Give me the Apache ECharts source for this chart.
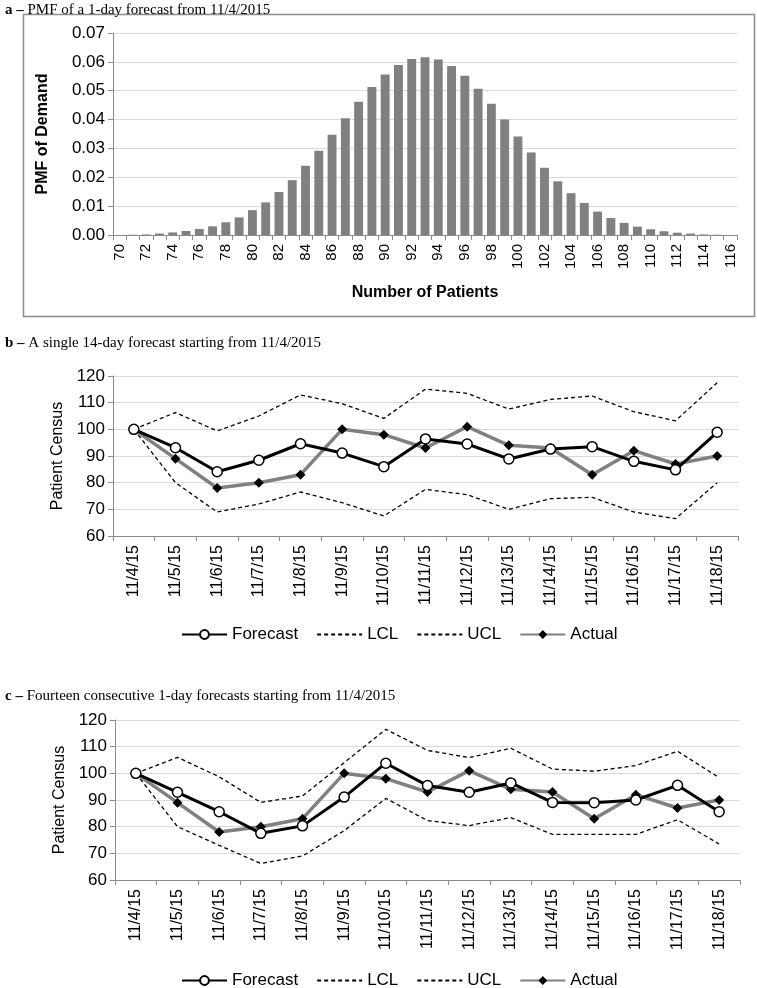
<!DOCTYPE html>
<html>
<head>
<meta charset="utf-8">
<script src="https://cdn.jsdelivr.net/npm/echarts@6/dist/echarts.min.js"></script>
<style>html,body{margin:0;padding:0;background:#fff}#c{width:757px;height:988px}</style>
</head>
<body>
<div id="c"></div>
<script>
// Panel a: PMF of demand
const pmfCategories = [];
for (let k = 70; k <= 116; k++) pmfCategories.push(String(k));
const pmfValues = [0.0000,0.0001,0.0002,0.0005,0.0009,0.0014,0.0021,0.0030,0.0044,0.0061,
  0.0086,0.0113,0.0149,0.0190,0.0240,0.0292,0.0347,0.0405,0.0462,0.0513,
  0.0556,0.0589,0.0610,0.0616,0.0608,0.0586,0.0552,0.0507,0.0455,0.0400,
  0.0341,0.0286,0.0233,0.0186,0.0145,0.0111,0.0081,0.0059,0.0042,0.0029,
  0.0020,0.0013,0.0008,0.0005,0.0002,0.0001,0.0000];

// Panels b and c
const dates = ['11/4/15','11/5/15','11/6/15','11/7/15','11/8/15','11/9/15','11/10/15','11/11/15',
  '11/12/15','11/13/15','11/14/15','11/15/15','11/16/15','11/17/15','11/18/15'];
const actual = [100,89,78,80,83,100,98,93,101,94,93,83,92,87,90];

const bForecast = [100,93.1,84.1,88.4,94.6,91.1,86.0,96.4,94.5,88.9,92.6,93.5,88.0,84.8,98.9];
const bLCL = [100,80,69,72,76.5,72.5,67.5,77.5,75.5,70,74,74.5,69,66.5,80];
const bUCL = [100,106.3,99.4,105,112.9,109.6,104.1,115.1,113.5,107.6,111.2,112.5,106.6,103.2,117.5];

const cForecast = [100,92.9,85.6,77.5,80.3,91.1,103.8,95.4,92.9,96.4,89.1,89.0,90.0,95.5,85.6];
const cLCL = [100,80,73,66.2,69,78.5,90.6,82.3,80.4,83.4,77.1,77.1,77.1,82.6,73.5];
const cUCL = [100,106,98.7,89.1,91.5,104,116.5,108.6,105.9,109.4,101.6,100.8,102.9,108.3,98.4];

const FONT = 'Liberation Sans, Arial, sans-serif';
const SERIF = 'Liberation Serif, Times New Roman, serif';
const grid = '#d9d9d9';
const axisGray = '#8c8c8c';

function catAxis(idx, data, interval, fontSize, extra) {
  return Object.assign({
    type: 'category', gridIndex: idx, data: data, boundaryGap: true,
    axisLine: {show: true, lineStyle: {color: axisGray, width: 1}},
    axisTick: {show: true, alignWithLabel: false, interval: 0, length: 5, lineStyle: {color: axisGray}},
    axisLabel: {interval: interval, rotate: 90, color: '#000', fontFamily: FONT, fontSize: fontSize, margin: 9},
    splitLine: {show: false}
  }, extra || {});
}
function valAxis(idx, min, max, interval, fmt, name, bold, nameGap) {
  return {
    type: 'value', gridIndex: idx, min: min, max: max, interval: interval,
    name: name, nameLocation: 'middle', nameGap: nameGap,
    nameTextStyle: {fontFamily: FONT, fontSize: 16, fontWeight: bold ? 'bold' : 'normal', color: '#000'},
    axisLine: {show: true, lineStyle: {color: axisGray, width: 1}},
    axisTick: {show: true, length: 5, lineStyle: {color: axisGray}},
    axisLabel: {color: '#000', fontFamily: FONT, fontSize: 17, margin: 8, formatter: fmt},
    splitLine: {show: true, lineStyle: {color: grid, width: 1}}
  };
}
function lineSeries(name, data, idx, kind) {
  const s = {name: name, type: 'line', xAxisIndex: idx, yAxisIndex: idx, data: data, animation: false, z: 2};
  if (kind === 'forecast') {
    Object.assign(s, {symbol: 'circle', symbolSize: 10, z: 4,
      lineStyle: {color: '#000', width: 3},
      itemStyle: {color: '#fff', borderColor: '#000', borderWidth: 1.5}});
  } else if (kind === 'dash') {
    Object.assign(s, {symbol: 'none', lineStyle: {color: '#000', width: 1.3, type: [4, 3]}, itemStyle: {color: 'rgba(0,0,0,0)', borderWidth: 0}});
  } else {
    Object.assign(s, {symbol: 'diamond', symbolSize: 10, z: 3,
      lineStyle: {color: '#808080', width: 3.5},
      itemStyle: {color: '#000', borderColor: '#000', borderWidth: 0}});
  }
  return s;
}

const chart = echarts.init(document.getElementById('c'), null, {renderer: 'canvas'});
const legendCommon = {
  data: ['Forecast', 'LCL', 'UCL', 'Actual'], left: 176, itemWidth: 45, itemHeight: 11, itemGap: 18,
  textStyle: {fontFamily: FONT, fontSize: 17, color: '#000'}, selectedMode: false
};
chart.setOption({
  animation: false,
  title: [
    {text: '{b|a –} PMF of a 1-day forecast from 11/4/2015', left: 0, top: -2,
      textStyle: {fontFamily: SERIF, fontSize: 15, fontWeight: 'normal', color: '#000', rich: {b: {fontFamily: SERIF, fontSize: 15, fontWeight: 'bold'}}}},
    {text: '{b|b –} A single 14-day forecast starting from 11/4/2015', left: 0, top: 331,
      textStyle: {fontFamily: SERIF, fontSize: 15, fontWeight: 'normal', color: '#000', rich: {b: {fontFamily: SERIF, fontSize: 15, fontWeight: 'bold'}}}},
    {text: '{b|c –} Fourteen consecutive 1-day forecasts starting from 11/4/2015', left: 0, top: 684,
      textStyle: {fontFamily: SERIF, fontSize: 15, fontWeight: 'normal', color: '#000', rich: {b: {fontFamily: SERIF, fontSize: 15, fontWeight: 'bold'}}}}
  ],
  graphic: [{type: 'rect', shape: {x: 23.5, y: 14.5, width: 731, height: 302}, style: {fill: 'none', stroke: '#8c8c8c', lineWidth: 1.5}, silent: true}],
  legend: [
    Object.assign({top: 621}, legendCommon),
    Object.assign({top: 967}, legendCommon)
  ],
  grid: [
    {left: 113, right: 20, top: 33, height: 202},
    {left: 113, right: 19, top: 376, height: 160},
    {left: 115, right: 17, top: 720, height: 160}
  ],
  xAxis: [
    catAxis(0, pmfCategories, 1, 15, {name: 'Number of Patients', nameLocation: 'middle', nameGap: 50,
      nameTextStyle: {fontFamily: FONT, fontSize: 16, fontWeight: 'bold', color: '#000'}}),
    catAxis(1, dates, 0, 16),
    catAxis(2, dates, 0, 16)
  ],
  yAxis: [
    valAxis(0, 0, 0.07, 0.01, v => v.toFixed(2), 'PMF of Demand', true, 62),
    valAxis(1, 60, 120, 10, v => v, 'Patient Census', false, 44),
    valAxis(2, 60, 120, 10, v => v, 'Patient Census', false, 46)
  ],
  series: [
    {type: 'bar', xAxisIndex: 0, yAxisIndex: 0, data: pmfValues, barCategoryGap: '33%', itemStyle: {color: '#808080'}, animation: false},
    lineSeries('LCL', bLCL, 1, 'dash'),
    lineSeries('UCL', bUCL, 1, 'dash'),
    lineSeries('Actual', actual, 1, 'actual'),
    lineSeries('Forecast', bForecast, 1, 'forecast'),
    lineSeries('LCL', cLCL, 2, 'dash'),
    lineSeries('UCL', cUCL, 2, 'dash'),
    lineSeries('Actual', actual, 2, 'actual'),
    lineSeries('Forecast', cForecast, 2, 'forecast')
  ]
});
</script>
</body>
</html>
